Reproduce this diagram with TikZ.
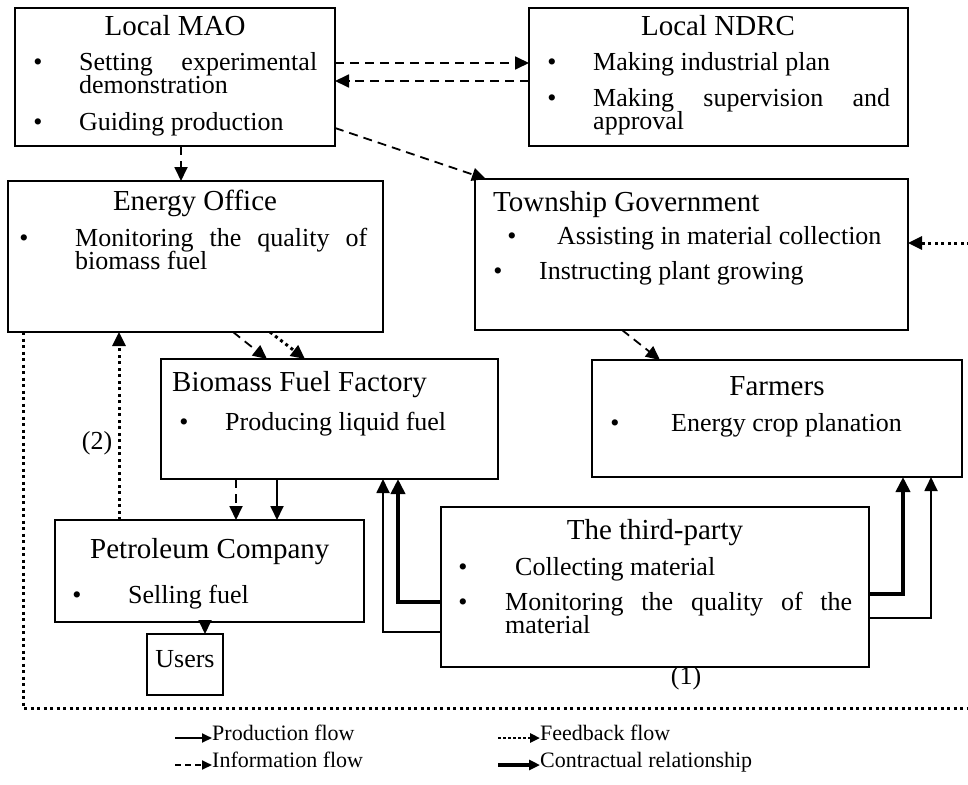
\documentclass[tikz,border=0pt]{standalone}
\usepackage{fontspec}
\setmainfont{Liberation Serif}
\usetikzlibrary{arrows.meta}
\newcommand\bodyf{\fontsize{26}{20}\selectfont}
\newcommand\ttlf{\fontsize{29}{32}\selectfont}
\newcommand\legf{\fontsize{22}{24}\selectfont}
\newcommand\jl[2]{\makebox[#1pt][s]{#2}}
\newcommand\twol[2]{\rlap{#1}\raisebox{-23.5pt}{#2}}
\begin{document}
\begin{tikzpicture}[x=1pt,y=-1pt,
  box/.style={draw,line width=1.6pt,inner sep=0pt,outer sep=0pt,anchor=north west},
  tx/.style={font=\bodyf,inner sep=0pt,anchor=mid west},
  ttl/.style={font=\ttlf,inner sep=0pt,anchor=mid},
  ttlw/.style={font=\ttlf,inner sep=0pt,anchor=mid west},
  bul/.style={font=\bodyf,inner sep=0pt,anchor=mid},
  lg/.style={font=\legf,inner sep=0pt,anchor=mid west},
  prod/.style={line width=1.8pt,-{Triangle[length=14pt,width=13pt]}},
  info/.style={prod,dash pattern=on 9pt off 6pt},
  fb/.style={line width=3pt,dash pattern=on 3pt off 3.5pt,-{Triangle[length=14pt,width=13pt]}},
  fbline/.style={line width=3pt,dash pattern=on 3pt off 3.5pt},
  contract/.style={line width=4.5pt,-{Triangle[length=15pt,width=14pt]}},
  lprod/.style={line width=1.8pt,-{Triangle[length=10pt,width=9pt]}},
  linfo/.style={lprod,dash pattern=on 6pt off 4pt},
  lfb/.style={line width=2.5pt,dash pattern=on 2.5pt off 2.5pt,-{Triangle[length=10pt,width=9pt]}},
  lcon/.style={line width=3.5pt,-{Triangle[length=11pt,width=10pt]}}
]
\useasboundingbox (0,0) rectangle (968,784);
\fill[white] (0,0) rectangle (968,784);

% boxes
\node[box,minimum width=320pt,minimum height=138pt] (mao) at (15,8) {};
\node[box,minimum width=379pt,minimum height=138pt] (ndrc) at (529,8) {};
\node[box,minimum width=375pt,minimum height=151pt] (eo) at (8,181) {};
\node[box,minimum width=433pt,minimum height=151pt] (town) at (475,179) {};
\node[box,minimum width=337pt,minimum height=120pt] (bff) at (161,359) {};
\node[box,minimum width=370pt,minimum height=117pt] (farm) at (592,360) {};
\node[box,minimum width=309pt,minimum height=102pt] (pc) at (55,520) {};
\node[box,minimum width=76pt,minimum height=61pt] (users) at (147,634) {};
\node[box,minimum width=428pt,minimum height=160pt] (third) at (441,507) {};

% Local MAO
\node[ttl] (maot) at (175,33) {Local MAO};
\node[bul] (maob1) at (38,68) {\textbullet};
\node[tx] (maol1) at (79,68) {\twol{\jl{238}{Setting experimental}}{demonstration}};
\node[bul] (maob2) at (38,128) {\textbullet};
\node[tx] (maol3) at (79,128) {Guiding production};

% Local NDRC
\node[ttl] (ndrct) at (718,33) {Local NDRC};
\node[bul] (ndrcb1) at (552,68) {\textbullet};
\node[tx] (ndrcl1) at (593,68) {Making industrial plan};
\node[bul] (ndrcb2) at (552,104) {\textbullet};
\node[tx] (ndrcl2) at (593,104) {\twol{\jl{297}{Making supervision and}}{approval}};

% Energy Office
\node[ttl] (eot) at (195,208) {Energy Office};
\node[bul] (eob1) at (24,244) {\textbullet};
\node[tx] (eol1) at (75,244) {\twol{\jl{292}{Monitoring the quality of}}{biomass fuel}};

% Township Government
\node[ttlw] (townt) at (493,209) {Township Government};
\node[bul] (townb1) at (512,242) {\textbullet};
\node[tx] (townl1) at (557,242) {Assisting in material collection};
\node[bul] (townb2) at (498,277) {\textbullet};
\node[tx] (townl2) at (539,277) {Instructing plant growing};

% Biomass Fuel Factory
\node[ttlw] (bfft) at (172,389) {Biomass Fuel Factory};
\node[bul] (bffb1) at (184,428) {\textbullet};
\node[tx] (bffl1) at (225,428) {Producing liquid fuel};

% Farmers
\node[ttl] (farmt) at (777,393) {Farmers};
\node[bul] (farmb1) at (615,429) {\textbullet};
\node[tx] (farml1) at (671,429) {Energy crop planation};

% Petroleum Company
\node[ttlw] (pct) at (90,556) {Petroleum Company};
\node[bul] (pcb1) at (77,601) {\textbullet};
\node[tx] (pcl1) at (128,601) {Selling fuel};

% Users
\node[font=\bodyf,inner sep=0pt,anchor=mid] (userst) at (185,665) {Users};

% Third party
\node[ttl] (thirdt) at (655,537) {The third-party};
\node[bul] (thirdb1) at (463,573) {\textbullet};
\node[tx] (thirdl1) at (515,573) {Collecting material};
\node[bul] (thirdb2) at (463,608) {\textbullet};
\node[tx] (thirdl2) at (505,608) {\twol{\jl{347}{Monitoring the quality of the}}{material}};

% labels
\node[font=\bodyf,inner sep=0pt,anchor=mid] (lab1) at (686,682) {(1)};
\node[font=\bodyf,inner sep=0pt,anchor=mid] (lab2) at (97,447) {(2)};

% connectors
\draw[info] (mao.east |- 0,63) -- (ndrc.west |- 0,63);
\draw[info] (ndrc.west |- 0,81) -- (mao.east |- 0,81);
\draw[info] (mao.south -| 181,0) -- (eo.north -| 181,0);
\draw[info] (mao.east |- 0,128) -- (town.north -| 486,0);
\draw[info] (eo.south -| 233,0) -- (bff.north -| 267,0);
\draw[fb] (eo.south -| 270,0) -- (bff.north -| 305,0);
\draw[info] (town.south -| 622,0) -- (farm.north -| 660,0);
\draw[info] (bff.south -| 236,0) -- (pc.north -| 236,0);
\draw[prod] (bff.south -| 277,0) -- (pc.north -| 277,0);
\draw[prod] (pc.south -| 205,0) -- (users.north -| 205,0);
\draw[fb] (pc.north -| 119,0) -- (eo.south -| 119,0);
\draw[contract] (third.west |- 0,602) -| (bff.south -| 398,0);
\draw[prod] (third.west |- 0,632) -| (bff.south -| 383,0);
\draw[contract] (third.east |- 0,594) -| (farm.south -| 903,0);
\draw[prod] (third.east |- 0,618) -| (farm.south -| 931,0);

% feedback loop
\coordinate (fbR) at (970,708);
\coordinate (fbT) at (970,243);
\draw[fbline] (eo.south -| 23,0) |- (fbR);
\draw[fb] (fbT) -- (town.east |- fbT);

% legend
\node[lg] (lg1) at (212,738) {Production flow};
\node[lg] (lg2) at (212,765) {Information flow};
\node[lg] (lg3) at (540,738) {Feedback flow};
\node[lg] (lg4) at (540,765) {Contractual relationship};
\coordinate (lg1s) at (175,738);
\coordinate (lg2s) at (175,765);
\coordinate (lg3s) at (498,738);
\coordinate (lg4s) at (498,765);
\draw[lprod] (lg1s) -- (lg1s -| lg1.west);
\draw[linfo] (lg2s) -- (lg2s -| lg2.west);
\draw[lfb] (lg3s) -- (lg3s -| lg3.west);
\draw[lcon] (lg4s) -- (lg4s -| lg4.west);
\end{tikzpicture}
\end{document}
